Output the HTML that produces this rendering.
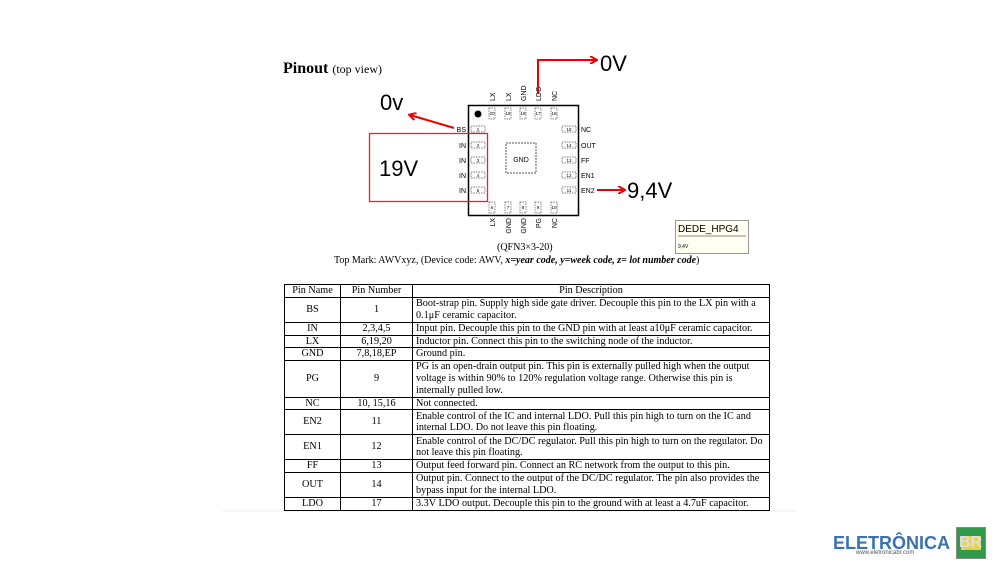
<!DOCTYPE html>
<html><head><meta charset="utf-8"><style>
body{margin:0;width:1000px;height:562px;background:#fff;position:relative;overflow:hidden;font-family:"Liberation Serif",serif;color:#000}
.a{position:absolute;white-space:nowrap}
.s{font-family:"Liberation Sans",sans-serif}
table{position:absolute;left:284px;top:284px;width:486px;border-collapse:collapse;font-size:10.2px;line-height:11.8px}
td{border:1px solid #000;padding:0 3px;vertical-align:middle}
td.c{text-align:center}
</style></head><body>
<div class="a" style="left:283px;top:60px;font-size:16px"><b>Pinout</b> <span style="font-size:12px">(top view)</span></div>

<svg class="a" style="left:0;top:0" width="1000" height="562">
<defs><marker id="ar" markerWidth="8" markerHeight="8" refX="6" refY="4" orient="auto" markerUnits="userSpaceOnUse"><path d="M0,0 L7,4 L0,8" fill="none" stroke="#e00" stroke-width="2"/></marker></defs>
<rect x="468.5" y="105.5" width="110" height="110" fill="none" stroke="#000" stroke-width="1.5"/>
<circle cx="478" cy="114" r="3.5" fill="#000"/>
<rect x="506" y="143" width="30" height="30" fill="none" stroke="#555" stroke-dasharray="2,1"/>
<text x="521" y="162" font-size="7" font-family="Liberation Sans" text-anchor="middle">GND</text>
<g stroke="#555" stroke-width=".7" stroke-dasharray="1.5,1" fill="none">
<rect x="471" y="126" width="14" height="6"/><rect x="471" y="142" width="14" height="6"/><rect x="471" y="157" width="14" height="6"/><rect x="471" y="172" width="14" height="6"/><rect x="471" y="187" width="14" height="6"/>
<rect x="562" y="126" width="14" height="6"/><rect x="562" y="142" width="14" height="6"/><rect x="562" y="157" width="14" height="6"/><rect x="562" y="172" width="14" height="6"/><rect x="562" y="187" width="14" height="6"/>
<rect x="489" y="108" width="6" height="11"/><rect x="505" y="108" width="6" height="11"/><rect x="520" y="108" width="6" height="11"/><rect x="535" y="108" width="6" height="11"/><rect x="551" y="108" width="6" height="11"/>
<rect x="489" y="202" width="6" height="11"/><rect x="505" y="202" width="6" height="11"/><rect x="520" y="202" width="6" height="11"/><rect x="535" y="202" width="6" height="11"/><rect x="551" y="202" width="6" height="11"/>
</g>
<g font-family="Liberation Sans" font-size="4.5" text-anchor="middle">
<text x="478" y="131">1</text><text x="478" y="147">2</text><text x="478" y="162">3</text><text x="478" y="177">4</text><text x="478" y="192">5</text>
<text x="569" y="131">15</text><text x="569" y="147">14</text><text x="569" y="162">13</text><text x="569" y="177">12</text><text x="569" y="192">11</text>
<text x="492" y="115">20</text><text x="508" y="115">19</text><text x="523" y="115">18</text><text x="538" y="115">17</text><text x="554" y="115">16</text>
<text x="492" y="209">6</text><text x="508" y="209">7</text><text x="523" y="209">8</text><text x="538" y="209">9</text><text x="554" y="209">10</text>
</g>
<g font-family="Liberation Sans" font-size="7">
<g text-anchor="end"><text x="466" y="132">BS</text><text x="466" y="148">IN</text><text x="466" y="163">IN</text><text x="466" y="178">IN</text><text x="466" y="193">IN</text></g>
<text x="581" y="132">NC</text><text x="581" y="148">OUT</text><text x="581" y="163">FF</text><text x="581" y="178">EN1</text><text x="581" y="193">EN2</text>
<text transform="translate(495,101) rotate(-90)">LX</text><text transform="translate(511,101) rotate(-90)">LX</text><text transform="translate(526,101) rotate(-90)">GND</text><text transform="translate(541,101) rotate(-90)">LDO</text><text transform="translate(557,101) rotate(-90)">NC</text>
<g text-anchor="end">
<text transform="translate(495,218) rotate(-90)">LX</text><text transform="translate(511,218) rotate(-90)">GND</text><text transform="translate(526,218) rotate(-90)">GND</text><text transform="translate(541,218) rotate(-90)">PG</text><text transform="translate(557,218) rotate(-90)">NC</text>
</g>
</g>
<rect x="369.5" y="133.5" width="118" height="68" fill="none" stroke="#e22" stroke-width="1.3"/>
<g stroke="#e00" stroke-width="2" fill="none">
<line x1="454" y1="128" x2="410" y2="115" marker-end="url(#ar)"/>
<polyline points="538,94 538,60 596,60" marker-end="url(#ar)"/>
<line x1="597" y1="190" x2="624" y2="190" marker-end="url(#ar)"/>
</g>
<g font-family="Liberation Sans" font-size="22">
<text x="380" y="110">0v</text><text x="600" y="71">0V</text><text x="379" y="176">19V</text><text x="627" y="198">9,4V</text>
</g>
<rect x="675.5" y="220.5" width="73" height="33" fill="#fffef0" stroke="#999"/>
<line x1="678" y1="236" x2="746" y2="236" stroke="#888"/>
<text x="678" y="232" font-family="Liberation Sans" font-size="10">DEDE_HPG4</text>
<text x="678" y="248" font-family="Liberation Sans" font-size="5">9,4V</text>
<line x1="222" y1="511" x2="797" y2="511" stroke="#eee"/>
</svg>

<div class="a" style="left:497px;top:242px;font-size:10px">(QFN3×3-20)</div>
<div class="a" style="left:334px;top:255px;font-size:10px">Top Mark: AWVxyz, (Device code: AWV, <b><i>x=year code, y=week code, z= lot number code</i></b>)</div>

<table>
<tr style="height:12px"><td class="c" style="width:49px">Pin Name</td><td class="c" style="width:65px">Pin Number</td><td class="c">Pin Description</td></tr>
<tr style="height:25px"><td class="c">BS</td><td class="c">1</td><td>Boot-strap pin. Supply high side gate driver. Decouple this pin to the LX pin with a 0.1μF ceramic capacitor.</td></tr>
<tr style="height:12px"><td class="c">IN</td><td class="c">2,3,4,5</td><td>Input pin. Decouple this pin to the GND pin with at least a10μF ceramic capacitor.</td></tr>
<tr style="height:12px"><td class="c">LX</td><td class="c">6,19,20</td><td>Inductor pin. Connect this pin to the switching node of the inductor.</td></tr>
<tr style="height:12px"><td class="c">GND</td><td class="c">7,8,18,EP</td><td>Ground pin.</td></tr>
<tr style="height:36px"><td class="c">PG</td><td class="c">9</td><td>PG is an open-drain output pin. This pin is externally pulled high when the output voltage is within 90% to 120% regulation voltage range. Otherwise this pin is internally pulled low.</td></tr>
<tr style="height:12px"><td class="c">NC</td><td class="c">10, 15,16</td><td>Not connected.</td></tr>
<tr style="height:25px"><td class="c">EN2</td><td class="c">11</td><td>Enable control of the IC and internal LDO. Pull this pin high to turn on the IC and internal LDO. Do not leave this pin floating.</td></tr>
<tr style="height:25px"><td class="c">EN1</td><td class="c">12</td><td>Enable control of the DC/DC regulator. Pull this pin high to turn on the regulator. Do not leave this pin floating.</td></tr>
<tr style="height:12px"><td class="c">FF</td><td class="c">13</td><td>Output feed forward pin. Connect an RC network from the output to this pin.</td></tr>
<tr style="height:25px"><td class="c">OUT</td><td class="c">14</td><td>Output pin. Connect to the output of the DC/DC regulator. The pin also provides the bypass input for the internal LDO.</td></tr>
<tr style="height:12px"><td class="c">LDO</td><td class="c">17</td><td>3.3V LDO output. Decouple this pin to the ground with at least a 4.7uF capacitor.</td></tr>
</table>

<div class="a s" style="left:833px;top:533px;font-size:18px;font-weight:bold;color:#3a72b0">ELETRÔNICA</div>
<div class="a" style="left:956px;top:527px;width:28px;height:30px;background:#2e9a4a;border:1px solid #888"><div style="position:absolute;left:4px;top:8px;width:20px;height:14px;background:#e8d34a"></div><div class="s" style="position:absolute;left:2px;top:6px;font-size:16px;font-weight:bold;color:#dde">BR</div></div>
<div class="a s" style="left:856px;top:550px;font-size:6px;color:#555">www.eletronicabr.com</div>
</body></html>
